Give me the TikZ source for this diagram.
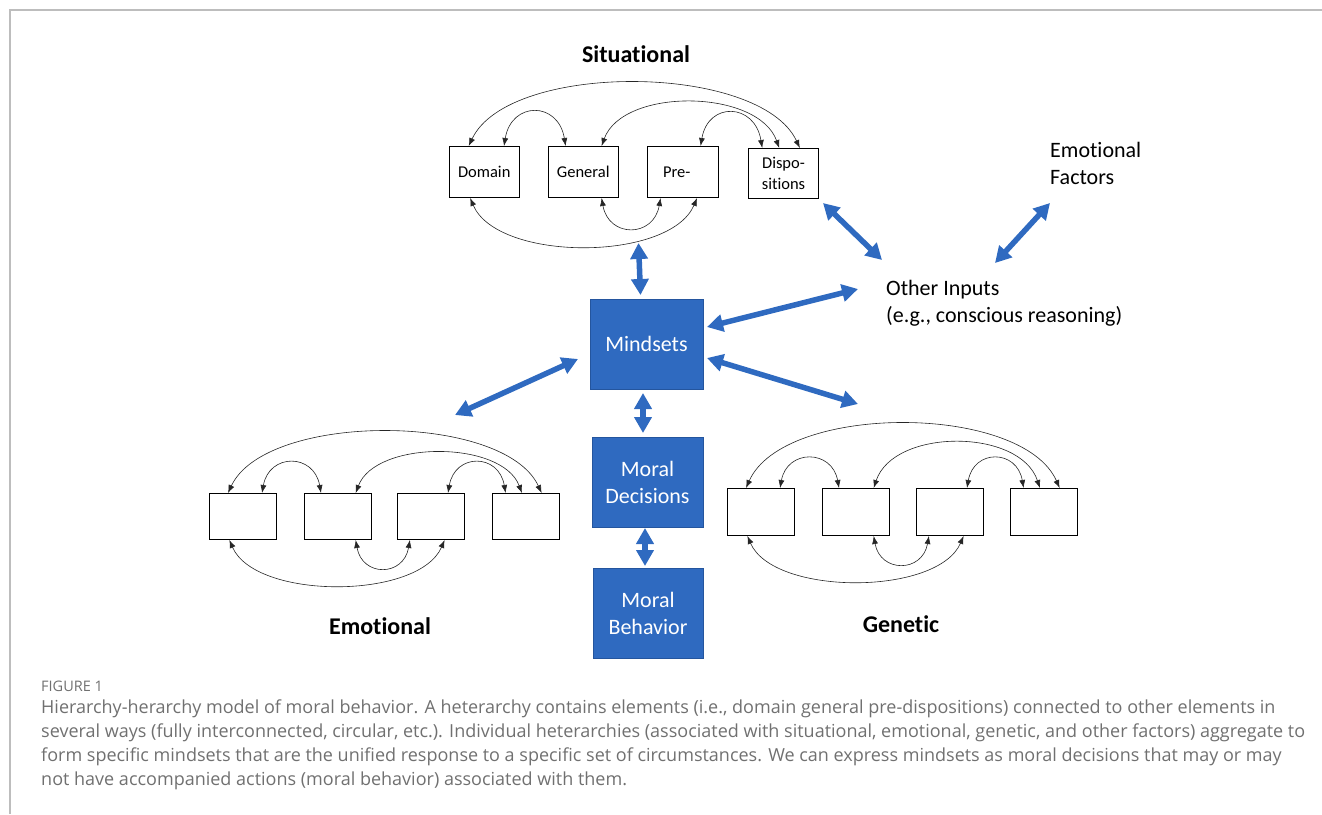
\documentclass[tikz,border=0pt]{standalone}
\usepackage{fontspec}
\setmainfont{Carlito}[Ligatures={NoCommon}]
\newfontfamily\capfont{Open Sans}[Ligatures={NoCommon}]
\usetikzlibrary{arrows.meta,calc}
\definecolor{mblue}{HTML}{2F6AC0}
\definecolor{mblueedge}{HTML}{24559E}
\definecolor{capgray}{HTML}{707070}
\definecolor{framegray}{HTML}{BDBDBD}
\tikzset{
  hbox/.style={draw=black, line width=1pt, fill=white, anchor=north west, inner sep=0pt, align=center, font=\fontsize{16.5}{21}\selectfont},
  het/.style={draw=black!85, line width=0.6pt, {Latex[length=8pt,width=6pt]}-{Latex[length=8pt,width=6pt]}},
  bluebox/.style={draw=mblueedge, line width=0.8pt, fill=mblue, text=white, align=center, minimum width=111pt, minimum height=90pt, font=\fontsize{22}{27}\selectfont},
  barrow/.style={draw=mblue, line width=5.5pt, {Triangle[length=16pt,width=17pt]}-{Triangle[length=16pt,width=17pt]}},
  heading/.style={font=\fontsize{24}{28}\selectfont\bfseries},
  plain/.style={align=left, anchor=west, inner sep=0pt, font=\fontsize{22}{27}\selectfont},
  capline/.style={anchor=west, inner sep=0pt, text=capgray, font=\capfont\fontsize{18}{20}\selectfont}
}
\newcommand\toparc[5]{%
  \coordinate (tA) at ($(#1.north west)!#2!(#1.north east)$);
  \coordinate (tB) at ($(#3.north west)!#4!(#3.north east)$);
  \draw[het] (tA) .. controls ($(tA)!0.12!(tB)+(0,-#5)$) and ($(tB)!0.12!(tA)+(0,-#5)$) .. (tB);}
\newcommand\botarc[5]{%
  \coordinate (tA) at ($(#1.south west)!#2!(#1.south east)$);
  \coordinate (tB) at ($(#3.south west)!#4!(#3.south east)$);
  \draw[het] (tA) .. controls ($(tA)!0.12!(tB)+(0,#5)$) and ($(tB)!0.12!(tA)+(0,#5)$) .. (tB);}
\newcommand\hetarcs[6]{%
  \toparc{#11}{0.28}{#14}{0.73}{#2}
  \toparc{#11}{0.78}{#12}{0.25}{#3}
  \toparc{#12}{0.76}{#14}{0.44}{#4}
  \toparc{#13}{0.75}{#14}{0.20}{#3}
  \botarc{#11}{0.30}{#13}{0.70}{#5}
  \botarc{#12}{0.76}{#13}{0.19}{#6}}
\begin{document}
\begin{tikzpicture}[x=1pt,y=-1pt]
\useasboundingbox (0,0) rectangle (1322,814);
\draw[framegray, line width=1.2pt] (10,814) -- (10,10) -- (1322,10);

% Situational heterarchy
\node[heading] (sith) at (636,54) {Situational};
\node[hbox, minimum width=69.5pt, minimum height=51pt] (s1) at (449,146) {Domain};
\node[hbox, minimum width=69.5pt, minimum height=51pt] (s2) at (548,146) {General};
\node[hbox, minimum width=70.5pt, minimum height=51pt] (s3) at (647,146) {Pre-\hspace{12pt}};
\node[hbox, minimum width=70pt, minimum height=50pt] (s4) at (748,148) {Dispo-\\sitions};
\hetarcs{s}{85}{45}{59}{64}{40}

% Emotional heterarchy
\node[hbox, minimum width=67pt, minimum height=46pt] (e1) at (209,493) {};
\node[hbox, minimum width=67pt, minimum height=46pt] (e2) at (304,493) {};
\node[hbox, minimum width=67pt, minimum height=46pt] (e3) at (397,493) {};
\node[hbox, minimum width=67pt, minimum height=46pt] (e4) at (492,493) {};
\hetarcs{e}{81}{40}{53}{60}{37}
\node[heading] (emoh) at (380,626) {Emotional};

% Genetic heterarchy
\node[hbox, minimum width=67pt, minimum height=47pt] (g1) at (727,488) {};
\node[hbox, minimum width=67pt, minimum height=47pt] (g2) at (822,488) {};
\node[hbox, minimum width=67pt, minimum height=47pt] (g3) at (916,488) {};
\node[hbox, minimum width=67pt, minimum height=47pt] (g4) at (1010,488) {};
\hetarcs{g}{85}{39}{60}{60}{37}
\node[heading] (genh) at (901,624) {Genetic};

% Central column
\node[bluebox, minimum width=113pt] (mind) at (646.5,344) {Mindsets};
\node[bluebox] (dec) at (647.5,482) {Moral\\Decisions};
\node[bluebox, minimum width=110pt] (beh) at (648,613) {Moral\\Behavior};

% Other texts
\node[plain] (other) at (886,303.5) {Other Inputs\\(e.g., conscious reasoning)};
\node[plain] (emofac) at (1050,163.5) {Emotional\\Factors};

% Blue arrow end points
\coordinate (sitb) at (638.5,243);
\coordinate (mindt) at (640.5,295);
\coordinate (mindl) at (578,359);
\coordinate (emot) at (455,415);
\coordinate (mindr1) at (707,327);
\coordinate (othl) at (858,289);
\coordinate (mindr2) at (707,358);
\coordinate (gent) at (858,404);
\coordinate (mindb) at (643,393);
\coordinate (dect) at (643,433);
\coordinate (decb) at (645,528);
\coordinate (beht) at (645,566);
\coordinate (dispb) at (823,203);
\coordinate (othtl) at (882,260);
\coordinate (efb) at (1050,203);
\coordinate (othtr) at (995,263);

\draw[barrow] (sitb) -- (mindt);
\draw[barrow] (emot) -- (mindl);
\draw[barrow] (mindr1) -- (othl);
\draw[barrow] (mindr2) -- (gent);
\draw[barrow] (mindb) -- (dect);
\draw[barrow] (decb) -- (beht);
\draw[barrow] (dispb) -- (othtl);
\draw[barrow] (efb) -- (othtr);

% Caption
\node[anchor=west, inner sep=0pt, text=capgray, font=\capfont\fontsize{14.5}{16}\selectfont] (figlab) at (41,686) {FIGURE 1};
\node[capline] (cap1) at (41,709) {Hierarchy-herarchy model of moral behavior. A heterarchy contains elements (i.e., domain general pre-dispositions) connected to other elements in};
\node[capline] (cap2) at (41,733) {several ways (fully interconnected, circular, etc.). Individual heterarchies (associated with situational, emotional, genetic, and other factors) aggregate to};
\node[capline] (cap3) at (41,757) {form specific mindsets that are the unified response to a specific set of circumstances. We can express mindsets as moral decisions that may or may};
\node[capline] (cap4) at (41,781) {not have accompanied actions (moral behavior) associated with them.};
\end{tikzpicture}
\end{document}
